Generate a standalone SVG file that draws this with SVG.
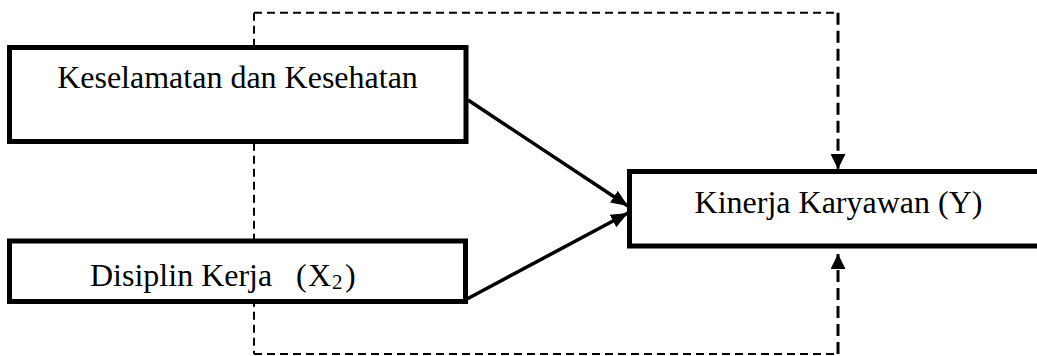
<svg xmlns="http://www.w3.org/2000/svg" width="1037" height="356" viewBox="0 0 1037 356">
<style>
.box{fill:#fff;stroke:#000;stroke-width:5}
.lbl{font-family:"Liberation Serif","Times New Roman",serif;font-size:32px;fill:#000}
.thin{fill:none;stroke:#000;stroke-width:2;stroke-dasharray:8 5}
.thick{fill:none;stroke:#000;stroke-width:3;stroke-dasharray:12 6}
.solid{fill:none;stroke:#000;stroke-width:3.5}
</style>
<defs>
<marker id="ah" markerUnits="userSpaceOnUse" markerWidth="17" markerHeight="14" refX="17" refY="7" orient="auto">
<path d="M0,0 L17,7 L0,14 z" fill="#000"/>
</marker>
<marker id="ahd" markerUnits="userSpaceOnUse" markerWidth="15" markerHeight="15" refX="15" refY="7.5" orient="auto">
<path d="M0,0 L15,7.5 L0,15 z" fill="#000"/>
</marker>
</defs>
<g id="connectors">
<path class="thin" d="M254,12.7 H838"/>
<path class="thin" d="M254,12.7 V354"/>
<path class="thin" d="M254,354 H838"/>
<path class="thick" d="M838,12.7 V169" marker-end="url(#ahd)"/>
<path class="thick" d="M838,354 V254" marker-end="url(#ahd)"/>
<path class="solid" d="M468,100 L628,206" marker-end="url(#ah)"/>
<path class="solid" d="M467,299 L628,213" marker-end="url(#ah)"/>
</g>
<g id="node-x1">
<rect class="box" x="9.5" y="47.5" width="456.5" height="94"/>
<text class="lbl" x="237.5" y="88" text-anchor="middle">Keselamatan dan Kesehatan</text>
</g>
<g id="node-x2">
<rect class="box" x="9.5" y="241" width="456" height="60.5"/>
<text class="lbl" y="286"><tspan x="90">Disiplin Kerja</tspan><tspan x="296">(</tspan><tspan x="308">X</tspan><tspan x="332" y="289" font-size="21">2</tspan><tspan x="345" y="286">)</tspan></text>
</g>
<g id="node-y">
<rect class="box" x="629.5" y="171.5" width="420" height="74.5"/>
<text class="lbl" x="838.5" y="213" text-anchor="middle">Kinerja Karyawan (Y)</text>
</g>
</svg>
